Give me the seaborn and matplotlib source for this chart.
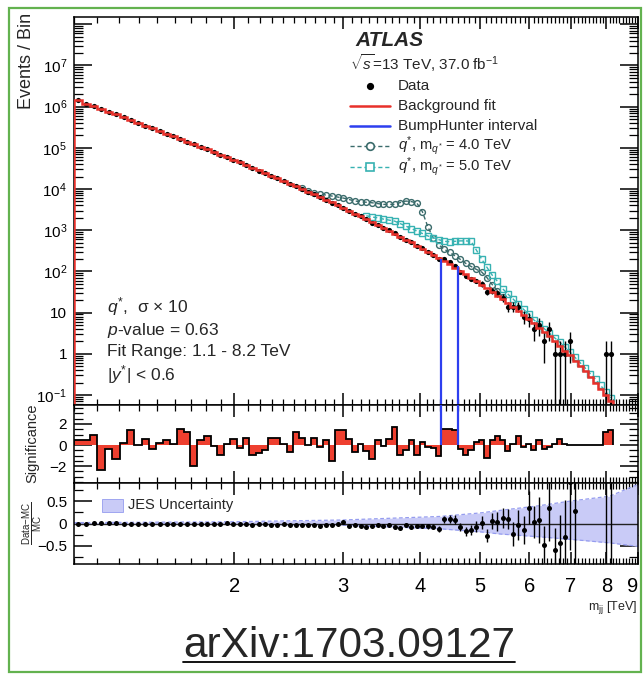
import numpy as np
import matplotlib
matplotlib.use("Agg")
import matplotlib.pyplot as plt
import seaborn as sns
from matplotlib.lines import Line2D
from matplotlib.patches import Rectangle
from matplotlib.transforms import ScaledTranslation
from matplotlib.ticker import FixedLocator, FuncFormatter, NullFormatter, MultipleLocator, LogLocator

# ---------------- data ----------------
edges_gev = [1100, 1133, 1166, 1200, 1234, 1269, 1305, 1341, 1378, 1416,
             1454, 1493, 1533, 1573, 1614, 1656, 1698, 1741, 1785, 1830,
             1875, 1921, 1968, 2016, 2065, 2114, 2164, 2215, 2267, 2320,
             2374, 2429, 2485, 2542, 2600, 2659, 2719, 2780, 2842, 2905,
             2969, 3034, 3100, 3167, 3235, 3305, 3376, 3448, 3521, 3596,
             3672, 3749, 3827, 3907, 3988, 4070, 4154, 4239, 4326, 4414,
             4504, 4595, 4688, 4782, 4878, 4975, 5074, 5175, 5277, 5381,
             5487, 5595, 5705, 5817, 5931, 6047, 6165, 6285, 6407, 6531,
             6658, 6787, 6918, 7052, 7188, 7326, 7467, 7610, 7756, 7904,
             8055, 8208]

background_fit = [1.419e6, 1.190e6, 1.029e6, 8.656e5, 7.504e5, 6.494e5, 5.472e5, 4.747e5, 4.111e5, 3.471e5,
                  3.013e5, 2.611e5, 2.209e5, 1.918e5, 1.664e5, 1.410e5, 1.225e5, 1.064e5, 9.220e4, 7.825e4,
                  6.796e4, 5.895e4, 5.108e4, 4.423e4, 3.754e4, 3.256e4, 2.821e4, 2.442e4, 2.111e4, 1.824e4,
                  1.574e4, 1.358e4, 1.170e4, 1.007e4, 8663, 7447, 6396, 5490, 4706, 4033,
                  3452, 2953, 2524, 2156, 1864, 1585, 1346, 1143, 981.3, 829.3,
                  700.2, 590.8, 503.9, 423.2, 355.0, 301.0, 251.4, 212.0, 176.3, 147.9,
                  122.3, 102.1, 84.06, 69.78, 57.16, 47.18, 38.78, 31.47, 25.71, 20.92,
                  16.94, 13.66, 10.96, 8.751, 6.955, 5.497, 4.323, 3.382, 2.630, 2.046,
                  1.568, 1.194, 0.9089, 0.6808, 0.5060, 0.3753, 0.2736, 0.1989, 0.1419, 0.1008,
                  0.0702]

data_counts = [1419600, 1190500, 1030000, 863400, 750050, 648350, 547350, 475670, 411160, 347450,
               301080, 261200, 221135, 191844, 167012, 141450, 121800, 106563, 92474, 78222,
               67725, 58974, 51216, 44167, 37676, 32398, 28076, 24342, 21212, 18335,
               15753, 13498, 11830, 10140, 8663, 7507, 6380, 5527, 4603, 4122,
               3534, 2986, 2489, 2161, 1838, 1533, 1364, 1140, 1000, 878,
               676, 579, 515, 404, 361, 298, 246, 197, 196, 167,
               138, 98, 76, 66, 59, 50, 32, 34, 30, 23,
               14, 14, 14, 8, 7, 4, 5, 2, 4, 1,
               1, 1, 2, 0, 0, 0, 0, 0, 0, 1,
               1]

significance = [0.5, 0.5, 1.0, -2.4, -0.4, -1.3, 0.2, 1.4, 0.05, 0.6,
                -0.4, 0.2, 0.5, 0.1, 1.5, 1.2, -2.0, 0.5, 0.9, -0.1,
                -0.9, 0.1, 0.6, -0.3, 0.7, -0.9, -0.8, -0.5, 0.7, 0.7,
                0.1, -0.7, 1.2, 0.7, 0.0, 0.7, -0.2, 0.5, -1.5, 1.4,
                1.4, 0.6, -0.7, 0.1, -0.6, -1.3, 0.5, -0.1, 0.6, 1.7,
                -0.9, -0.5, 0.5, -0.9, 0.3, -0.2, -0.3, -1.0, 1.5, 1.55,
                1.4, -0.4, -0.9, -0.5, 0.3, 0.5, -1.2, 0.5, 0.9, 0.5,
                -0.6, 0.1, 0.9, -0.2, 0.1, -0.5, 0.5, -0.4, -0.2, 0.1,
                0.6, 0.1, 0, 0, 0, 0, 0, 0, 0, 1.2,
                1.4]

nan = float("nan")
data_minus_mc = [0.0, 0.0, 0.01, 0.01, 0.01, 0.02, 0.0, 0.0, 0.0, -0.01,
                 0.0, -0.01, -0.01, 0.0, -0.01, 0.0, -0.01, -0.01, 0.0, -0.02,
                 -0.01, 0.01, -0.01, -0.02, -0.02, -0.03, -0.02, -0.02, -0.03, -0.03,
                 -0.02, -0.03, -0.04, -0.03, -0.03, -0.04, -0.06, -0.03, -0.04, -0.02,
                 0.03, -0.05, -0.03, -0.06, -0.07, -0.05, -0.04, -0.05, -0.03, -0.09,
                 -0.1, -0.04, -0.08, -0.05, -0.06, -0.06, -0.07, -0.12, 0.1, 0.1,
                 0.09, -0.08, -0.18, -0.15, -0.07, 0.02, -0.28, 0.05, 0.04, 0.12,
                 0.1, -0.24, -0.04, -0.15, 0.36, 0.04, 0.08, -0.48, 0.36, -0.6,
                 -0.44, -0.3, 0.95, 0.28, nan, nan, nan, nan, nan, 2.0,
                 2.0]

qstar4_first_bin = 33
qstar4 = [10370, 9180, 8190, 7675, 7140, 6761, 6383, 6026, 5546, 5093,
          4955, 4764, 4634, 4426, 4236, 4236, 4236, 4688, 5093, 4955,
          4560, 2825, 1216, 638, 443, 344, 290, 239, 196, 157,
          132, 112, 97, 71, 48, 34, 24.5]

qstar5_first_bin = 44
qstar5 = [2239, 2089, 1995, 1862, 1758, 1660, 1445, 1259, 1096, 955,
          832, 724, 661, 589, 537, 525, 537, 550, 550, 537,
          331, 200, 126, 81.3, 57.5, 38.0, 28.2, 21.4, 15.8, 12.0,
          9.12, 6.61, 5.25, 4.07, 3.16, 2.45, 1.91, 1.45, 1.10, 0.813,
          0.603, 0.447, 0.324, 0.240, 0.170, 0.120, 0.0851]

bumphunter_bins = [58, 60]   # first and last bin of the interval

jes_mass = [1.1, 2.0, 3.0, 4.3, 5.0, 5.4, 6.2, 7.0, 8.1, 9.0]
jes_up = [0.02, 0.04, 0.08, 0.16, 0.24, 0.30, 0.40, 0.51, 0.62, 0.89]
jes_down = [-0.01, -0.02, -0.04, -0.12, -0.19, -0.24, -0.30, -0.36, -0.44, -0.52]

x_tick_labels = ["2", "3", "4", "5", "6", "7", "8", "9"]

# ---------------- style ----------------
sns.set_theme(style="ticks")
plt.rcParams.update({
    "font.family": ["Liberation Sans", "DejaVu Sans"],
    "mathtext.fontset": "custom",
    "mathtext.rm": "Liberation Sans",
    "mathtext.it": "Liberation Sans:italic",
    "mathtext.bf": "Liberation Sans:bold",
    "axes.linewidth": 1.1,
    "axes.edgecolor": "black",
    "xtick.color": "black",
    "ytick.color": "black",
})

RED = "#E8302A"
SIGRED = "#EE3F2F"
BLUE = "#2D3FEF"
TEAL_DARK = "#3A6B6B"
CYAN = "#37B2B2"
JES_FILL = "#C9CBF7"
JES_EDGE = "#959CEF"
GREEN = "#63B24F"

W, H = 643, 675
fig = plt.figure(figsize=(W / 100, H / 100), dpi=100)
fig.patch.set_facecolor("white")


def fx(x):
    return x / W


def fy(y):
    return 1 - y / H


AX_L, AX_R = 74, 638
ax_main = fig.add_axes([fx(AX_L), fy(405), fx(AX_R - AX_L), (405 - 17) / H])
ax_sig = fig.add_axes([fx(AX_L), fy(483), fx(AX_R - AX_L), (483 - 405) / H])
ax_rat = fig.add_axes([fx(AX_L), fy(564), fx(AX_R - AX_L), (564 - 483) / H])

edges = np.array(edges_gev) / 1000.0
lo, hi = edges[:-1], edges[1:]
centers = 0.5 * (lo + hi)
bkg = np.array(background_fit)
dat = np.array(data_counts, dtype=float)
sig = np.array(significance)
rat = np.array(data_minus_mc)

minor_x = [round(v, 1) for v in np.arange(1.1, 9.0, 0.1) if abs(v - round(v)) > 1e-6]
for ax in (ax_main, ax_sig, ax_rat):
    ax.set_xscale("log")
    ax.set_xlim(1.1, 9.0)
    ax.xaxis.set_major_locator(FixedLocator(list(range(1, 10))))
    ax.xaxis.set_minor_locator(FixedLocator(minor_x))
    ax.xaxis.set_minor_formatter(NullFormatter())
    ax.tick_params(axis="x", which="major", direction="in", top=True, bottom=True,
                   length=8.5, width=1.1)
    ax.tick_params(axis="x", which="minor", direction="in", top=True, bottom=True,
                   length=4.3, width=0.9)
    ax.tick_params(axis="y", which="major", direction="in", left=True, right=True,
                   length=13, width=1.1, labelsize=11, pad=5)
    ax.tick_params(axis="y", which="minor", direction="in", left=True, right=True,
                   length=6.5, width=0.9)
    for s in ax.spines.values():
        s.set_visible(True)
        s.set_linewidth(1.1)

# ---------------- main panel ----------------
ax_main.set_yscale("log")
ymin, ymax = 0.057, 1.5e8
ax_main.set_ylim(ymin, ymax)
ax_main.yaxis.set_major_locator(FixedLocator([10.0 ** k for k in range(-1, 9)]))
ax_main.yaxis.set_minor_locator(LogLocator(base=10, subs=np.arange(2, 10), numticks=50))
ax_main.yaxis.set_minor_formatter(NullFormatter())


def ylog_fmt(v, pos):
    e = int(round(np.log10(v)))
    if e == 8:
        return ""
    if e == 0:
        return "1"
    if e == 1:
        return "10"
    return r"$10^{%d}$" % e


ax_main.yaxis.set_major_formatter(FuncFormatter(ylog_fmt))
ax_main.tick_params(axis="x", labelbottom=False)

# signal + background curves
i4 = np.arange(qstar4_first_bin, qstar4_first_bin + len(qstar4))
sns.lineplot(x=centers[i4], y=np.array(qstar4), ax=ax_main, color=TEAL_DARK,
             linestyle=(0, (3, 2)), lw=1.0, marker="o", markersize=4.2,
             markerfacecolor="none", markeredgecolor=TEAL_DARK, markeredgewidth=1.0,
             zorder=3, legend=False, estimator=None, sort=False)
i5 = np.arange(qstar5_first_bin, qstar5_first_bin + len(qstar5))
sns.lineplot(x=centers[i5], y=np.array(qstar5), ax=ax_main, color=CYAN,
             linestyle=(0, (3, 2)), lw=1.0, marker="s", markersize=4.2,
             markerfacecolor="none", markeredgecolor=CYAN, markeredgewidth=1.0,
             zorder=3, legend=False, estimator=None, sort=False)

# data
m = dat > 0
err = np.sqrt(dat[m])
err_lo = np.minimum(err, dat[m] - 1e-4)
ax_main.errorbar(centers[m], dat[m], yerr=[err_lo, err], fmt="none", ecolor="black",
                 elinewidth=1.0, capsize=0, zorder=4)
sns.scatterplot(x=centers[m], y=dat[m], ax=ax_main, color="black", s=14,
                linewidth=0, zorder=5, legend=False)

# background fit
ax_main.stairs(bkg, edges, color=RED, lw=1.8, zorder=6)

# BumpHunter interval
b0, b1 = bumphunter_bins
ax_main.vlines([edges[b0], edges[b1 + 1]], ymin, [dat[b0], dat[b1]], color=BLUE, lw=1.6, zorder=7)

# ---------------- significance panel ----------------
ax_sig.set_ylim(-3.6, 3.8)
ax_sig.yaxis.set_major_locator(FixedLocator([-2, 0, 2]))
ax_sig.yaxis.set_minor_locator(MultipleLocator(0.5))
ax_sig.yaxis.set_major_formatter(FuncFormatter(lambda v, p: ("%d" % v).replace("-", "\u2212")))
ax_sig.tick_params(axis="x", labelbottom=False)
ax_sig.stairs(sig, edges, baseline=0, fill=True, color=SIGRED, lw=0, zorder=2)
ax_sig.stairs(sig, edges, baseline=0, color="black", lw=1.3, zorder=3)
ax_sig.vlines([edges[b0], edges[b1 + 1]], 0, 3.8, color=BLUE, lw=1.6, zorder=4)

# ---------------- ratio panel ----------------
ax_rat.set_ylim(-0.92, 0.92)
ax_rat.yaxis.set_major_locator(FixedLocator([-0.5, 0, 0.5]))
ax_rat.yaxis.set_minor_locator(MultipleLocator(0.25))
ax_rat.yaxis.set_major_formatter(FuncFormatter(
    lambda v, p: "0" if abs(v) < 1e-9 else ("%g" % v).replace("-", "\u2212")))
ax_rat.fill_between(jes_mass, jes_down, jes_up, color=JES_FILL, lw=0, zorder=1)
ax_rat.plot(jes_mass, jes_up, color=JES_EDGE, lw=0.9, ls=(0, (3, 2)), zorder=1.5)
ax_rat.plot(jes_mass, jes_down, color=JES_EDGE, lw=0.9, ls=(0, (3, 2)), zorder=1.5)
ax_rat.axhline(0, color="#222222", lw=1.0, zorder=2)
mr = ~np.isnan(rat)
rerr = np.maximum(np.sqrt(dat[mr]), 1.0) / bkg[mr]
ax_rat.errorbar(centers[mr], rat[mr], yerr=rerr, fmt="none", ecolor="black",
                elinewidth=1.0, capsize=0, zorder=3)
sns.scatterplot(x=centers[mr], y=rat[mr], ax=ax_rat, color="black", s=13,
                linewidth=0, zorder=4, legend=False)
ax_rat.set_xlim(1.1, 9.0)
ax_rat.xaxis.set_major_formatter(FuncFormatter(
    lambda v, p: x_tick_labels[int(round(v)) - 2] if 2 <= round(v) <= 9 else ""))
ax_rat.tick_params(axis="x", which="major", labelsize=14.5, pad=9)

# ---------------- texts ----------------
fig.text(fx(27), fy(61), "Events / Bin", rotation=90, ha="center", va="center", fontsize=13)
fig.text(fx(32), fy(443), "Significance", rotation=90, ha="center", va="center", fontsize=10.5)
fig.text(fx(33), fy(523), r"$\frac{\mathrm{Data\!-\!MC}}{\mathrm{MC}}$", rotation=90,
         ha="center", va="center", fontsize=10)
fig.text(fx(637), fy(607), r"m$_{\mathrm{jj}}$ [TeV]", ha="right", va="center", fontsize=9)

fig.text(fx(355), fy(40), "ATLAS", fontsize=15, fontweight="bold", fontstyle="italic",
         ha="left", va="center")
fig.text(fx(350), fy(63), r"$\sqrt{s}$=13 TeV, 37.0 fb$^{-1}$", fontsize=11, ha="left", va="center")

leg_rows = [85.7, 106, 126, 145.5, 166.5]
leg_labels = ["Data", "Background fit", "BumpHunter interval",
              r"$q^{*}$, m$_{q^{*}}$ = 4.0 TeV", r"$q^{*}$, m$_{q^{*}}$ = 5.0 TeV"]
leg_sizes = [11, 11, 11, 10.6, 10.6]
for yy, lab, fs in zip(leg_rows, leg_labels, leg_sizes):
    fig.text(fx(398), fy(yy), lab, fontsize=fs, ha="left", va="center")
fig.add_artist(Line2D([fx(370)], [fy(leg_rows[0])], marker="o", color="black",
                      markersize=4.2, lw=0))
fig.add_artist(Line2D([fx(350), fx(390)], [fy(leg_rows[1])] * 2, color=RED, lw=1.8))
fig.add_artist(Line2D([fx(350), fx(390)], [fy(leg_rows[2])] * 2, color=BLUE, lw=1.8))
for yy, c, mk in [(leg_rows[3], TEAL_DARK, "o"), (leg_rows[4], CYAN, "s")]:
    fig.add_artist(Line2D([fx(350), fx(390)], [fy(yy)] * 2, color=c, lw=1.0, ls=(0, (3, 2))))
    fig.add_artist(Line2D([fx(370)], [fy(yy)], marker=mk, color=c, markersize=5.5,
                          markerfacecolor="white", markeredgewidth=1.2, lw=0))

left_texts = [r"$q^{*}$,  σ × 10", r"$p$-value = 0.63", "Fit Range: 1.1 - 8.2 TeV",
              r"|$y^{*}$| < 0.6"]
for yy, t in zip([306.7, 330, 351.7, 375], left_texts):
    fig.text(fx(107), fy(yy), t, fontsize=12.5, ha="left", va="center")

# JES legend in ratio panel
fig.add_artist(Rectangle((fx(101.7), fy(511.7)), fx(21.6), 12.4 / H, transform=fig.transFigure,
                         facecolor=JES_FILL, edgecolor=JES_EDGE, lw=0.6))
fig.text(fx(128), fy(505.5), "JES Uncertainty", fontsize=10.5, ha="left", va="center")

# arXiv reference with underline
t_arx = fig.text(fx(349), fy(657), "arXiv:1703.09127", fontsize=30.5, ha="center", va="baseline")
fig.canvas.draw()
bb = t_arx.get_window_extent(renderer=fig.canvas.get_renderer())
fig.add_artist(Line2D([bb.x0 / W, bb.x1 / W], [fy(662), fy(662)], color="black", lw=1.3))

# keep the last x label ("9") inside the frame, as in the reference
for lab in ax_rat.get_xticklabels():
    if lab.get_text() == "9":
        lab.set_transform(lab.get_transform() + ScaledTranslation(-0.05, 0, fig.dpi_scale_trans))

# green frame
fig.add_artist(Rectangle((fx(9), fy(672)), fx(632), (672 - 8) / H, transform=fig.transFigure,
                         fill=False, edgecolor=GREEN, lw=1.6))

fig.savefig("out.png", dpi=100)
